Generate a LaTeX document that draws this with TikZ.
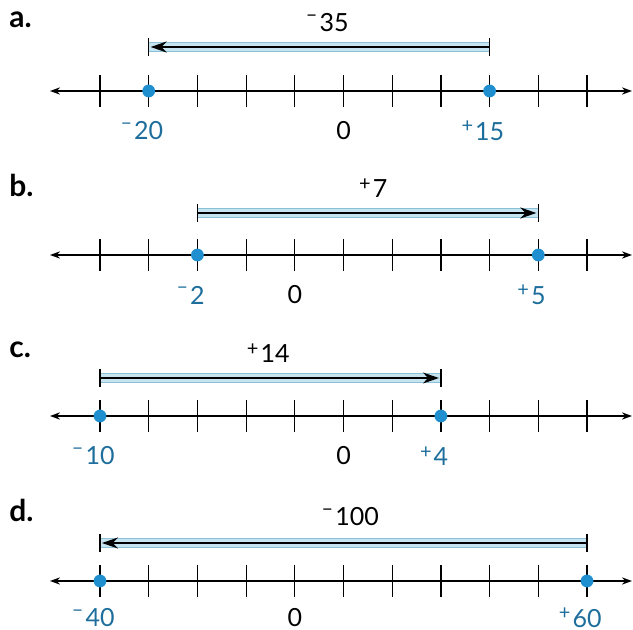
\documentclass[tikz,border=0pt]{standalone}
\usepackage{fontspec}
\setmainfont{Lato}
\usetikzlibrary{arrows.meta}

\definecolor{dotblue}{HTML}{1F8FD0}
\definecolor{lblblue}{HTML}{1D6E9C}
\definecolor{bandblue}{HTML}{C6E4F0}
\definecolor{bandedge}{HTML}{8CC0D6}

% raised signs, hanging left of the digits
\newcommand{\supm}{\llap{\raisebox{5.4pt}{\fontsize{10}{10}\selectfont\textendash}\kern1pt}}
\newcommand{\supp}{\llap{\raisebox{3.8pt}{\fontsize{10}{10}\selectfont+}\kern1pt}}

\begin{document}
\begin{tikzpicture}[x=0.5pt, y=-0.5pt,
		numline/.style={line width=0.7pt, {Stealth[length=5pt,width=3.6pt]}-{Stealth[length=5pt,width=3.6pt]}},
		tickmark/.style={line width=0.6pt},
		ptdot/.style={circle, fill=dotblue, inner sep=0pt, minimum size=6.4pt},
		band/.style={draw=bandedge, line width=0.35pt, double=bandblue, double distance=4.2pt},
		jump/.style={line width=0.8pt, -{Stealth[length=8pt,width=5.5pt]}, shorten >=1pt},
		endbar/.style={line width=0.6pt},
		numlbl/.style={font=\fontsize{12.5}{14}\selectfont, inner sep=0pt},
		ptlbl/.style={numlbl, text=lblblue},
		partlbl/.style={font=\fontsize{15}{17}\selectfont\bfseries, anchor=base west, inner sep=0pt}]

				\useasboundingbox (0,0) rectangle (633,630);

				% Number lines and ticks
				\foreach \r/\y in {a/91, b/255, c/416, d/581} {
					\coordinate (\r L) at (50,\y);
					\coordinate (\r R) at (632,\y);
					\draw[numline] (\r L) -- (\r R);
					\foreach \i in {0,...,10} {
						\coordinate (\r\i) at ({100+\i*48.7},\y);
						\draw[tickmark] ([yshift=8pt]\r\i) -- ([yshift=-8pt]\r\i);
					}
				}

				% a: from +15 to -20
				\node[partlbl] (parta) at (9,28) {a.};
				\coordinate (aS) at ([yshift=22pt]a8);
				\coordinate (aE) at ([yshift=22pt]a1);
				\draw[band] (aS) -- (aE);
				\draw[jump] (aS) -- (aE);
				\draw[endbar] ([yshift=4.5pt]aS) -- ([yshift=-4.5pt]aS);
				\draw[endbar] ([yshift=4.5pt]aE) -- ([yshift=-4.5pt]aE);
				\node[numlbl] (ja) at (334,23) {\supm 35};
				\node[ptdot] (pa1) at (a1) {};
				\node[ptdot] (pa8) at (a8) {};
				\node[ptlbl] (la1) at ([yshift=-20pt]a1) {\supm 20};
				\node[numlbl] (la5) at ([yshift=-20pt]a5) {0};
				\node[ptlbl] (la8) at ([yshift=-20pt]a8) {\supp 15};

				% b: from -2 to +5
				\node[partlbl] (partb) at (9,197) {b.};
				\coordinate (bS) at ([yshift=21pt]b2);
				\coordinate (bE) at ([yshift=21pt]b9);
				\draw[band] (bS) -- (bE);
				\draw[jump] (bS) -- (bE);
				\draw[endbar] ([yshift=4.5pt]bS) -- ([yshift=-4.5pt]bS);
				\draw[endbar] ([yshift=4.5pt]bE) -- ([yshift=-4.5pt]bE);
				\node[numlbl] (jb) at (380,188) {\supp 7};
				\node[ptdot] (pb2) at (b2) {};
				\node[ptdot] (pb9) at (b9) {};
				\node[ptlbl] (lb2) at ([yshift=-20pt]b2) {\supm 2};
				\node[numlbl] (lb4) at ([yshift=-20pt]b4) {0};
				\node[ptlbl] (lb9) at ([yshift=-20pt]b9) {\supp 5};

				% c: from -10 to +4
				\node[partlbl] (partc) at (9,358) {c.};
				\coordinate (cS) at ([yshift=19pt]c0);
				\coordinate (cE) at ([yshift=19pt]c7);
				\draw[band] (cS) -- (cE);
				\draw[jump] (cS) -- (cE);
				\draw[endbar] ([yshift=4.5pt]cS) -- ([yshift=-4.5pt]cS);
				\draw[endbar] ([yshift=4.5pt]cE) -- ([yshift=-4.5pt]cE);
				\node[numlbl] (jc) at (275,353) {\supp 14};
				\node[ptdot] (pc0) at (c0) {};
				\node[ptdot] (pc7) at (c7) {};
				\node[ptlbl] (lc0) at ([yshift=-20pt]c0) {\supm 10};
				\node[numlbl] (lc5) at ([yshift=-20pt]c5) {0};
				\node[ptlbl] (lc7) at ([yshift=-20pt]c7) {\supp 4};

				% d: from +60 to -40
				\node[partlbl] (partd) at (9,522) {d.};
				\coordinate (dS) at ([yshift=19pt]d10);
				\coordinate (dE) at ([yshift=19pt]d0);
				\draw[band] (dS) -- (dE);
				\draw[jump] (dS) -- (dE);
				\draw[endbar] ([yshift=4.5pt]dS) -- ([yshift=-4.5pt]dS);
				\draw[endbar] ([yshift=4.5pt]dE) -- ([yshift=-4.5pt]dE);
				\node[numlbl] (jd) at (357,517) {\supm 100};
				\node[ptdot] (pd0) at (d0) {};
				\node[ptdot] (pd10) at (d10) {};
				\node[ptlbl] (ld0) at ([yshift=-18.5pt]d0) {\supm 40};
				\node[numlbl] (ld4) at ([yshift=-18.5pt]d4) {0};
				\node[ptlbl] (ld10) at ([yshift=-18.5pt]d10) {\supp 60};
			\end{tikzpicture}
\end{document}
